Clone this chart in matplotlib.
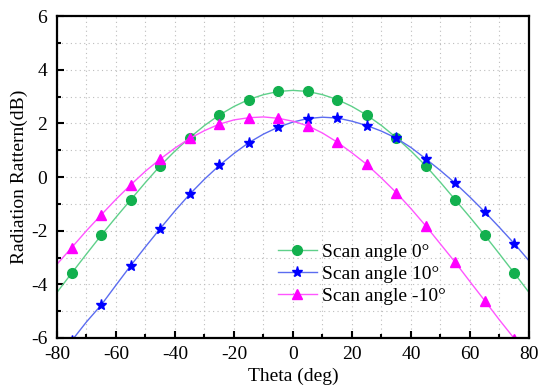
import matplotlib
matplotlib.use("Agg")
import matplotlib.pyplot as plt
from matplotlib.ticker import MultipleLocator
import numpy as np

# curve samples, every 5 deg from -80 to 80
theta = np.arange(-80, 81, 5)
scan_0 = [-4.3, -3.58, -2.87, -2.17, -1.5, -0.85, -0.2, 0.42, 0.97, 1.47, 1.92, 2.31, 2.63, 2.89, 3.07, 3.19, 3.23,
          3.19, 3.07, 2.89, 2.63, 2.31, 1.92, 1.47, 0.97, 0.42, -0.2, -0.85, -1.5, -2.17, -2.87, -3.58, -4.3]
scan_10 = [-6.75, -6.1, -5.4, -4.77, -4.03, -3.3, -2.6, -1.92, -1.26, -0.64, -0.08, 0.43, 0.88, 1.28, 1.6, 1.86, 2.05,
           2.18, 2.23, 2.2, 2.08, 1.92, 1.71, 1.45, 1.1, 0.68, 0.24, -0.23, -0.75, -1.3, -1.88, -2.48, -3.12]
scan_m10 = [-3.25, -2.63, -2.0, -1.41, -0.83, -0.29, 0.22, 0.67, 1.08, 1.44, 1.73, 1.97, 2.13, 2.21, 2.24, 2.19, 2.08,
            1.91, 1.64, 1.3, 0.9, 0.47, -0.04, -0.58, -1.18, -1.82, -2.5, -3.18, -3.9, -4.61, -5.33, -6.02, -6.7]

plt.rcParams['font.family'] = ['Liberation Serif', 'DejaVu Serif']
plt.rcParams['axes.unicode_minus'] = False

fig = plt.figure(figsize=(5.5, 3.92), dpi=100)
ax = fig.add_axes([0.1036, 0.1378, 0.8582, 0.8212])

marks = slice(1, None, 2)
ax.plot(theta, scan_0, '-', color='#5fd08a', lw=1.0, marker='o', ms=7, mfc='#12b04e', mec='#12b04e',
        markevery=marks, label='Scan angle 0\u00b0')
ax.plot(theta, scan_10, '-', color='#5b6cf0', lw=1.0, marker='*', ms=8, mfc='#0000ff', mec='#0000ff',
        markevery=marks, label='Scan angle 10\u00b0')
ax.plot(theta, scan_m10, '-', color='#ff55ff', lw=1.0, marker='^', ms=7, mfc='#ff00ff', mec='#ff00ff',
        markevery=marks, label='Scan angle -10\u00b0')

ax.set_xlim(-80, 80)
ax.set_ylim(-6, 6)
ax.xaxis.set_major_locator(MultipleLocator(20))
ax.xaxis.set_minor_locator(MultipleLocator(10))
ax.yaxis.set_major_locator(MultipleLocator(2))
ax.yaxis.set_minor_locator(MultipleLocator(1))
ax.tick_params(which='both', direction='in', top=False, right=False, labelsize=14, width=1.5)
ax.tick_params(which='major', length=5)
ax.tick_params(which='minor', length=3)
ax.tick_params(axis='x', pad=6)
ax.tick_params(axis='y', pad=7)
ax.grid(True, which='both', linestyle=(0, (1, 3)), color='#bdbdbd', lw=0.8)
for s in ax.spines.values():
    s.set_linewidth(1.6)

ax.set_xlabel('Theta (deg)', fontsize=14, labelpad=3)
ax.set_ylabel('Radiation Rattern(dB)', fontsize=14, labelpad=2)

ax.legend(loc='upper left', bbox_to_anchor=(0.447, 0.325), frameon=False, fontsize=14,
          handlelength=2.0, handletextpad=0.3, labelspacing=0.24, borderpad=0)

fig.savefig('out.png', dpi=100)
